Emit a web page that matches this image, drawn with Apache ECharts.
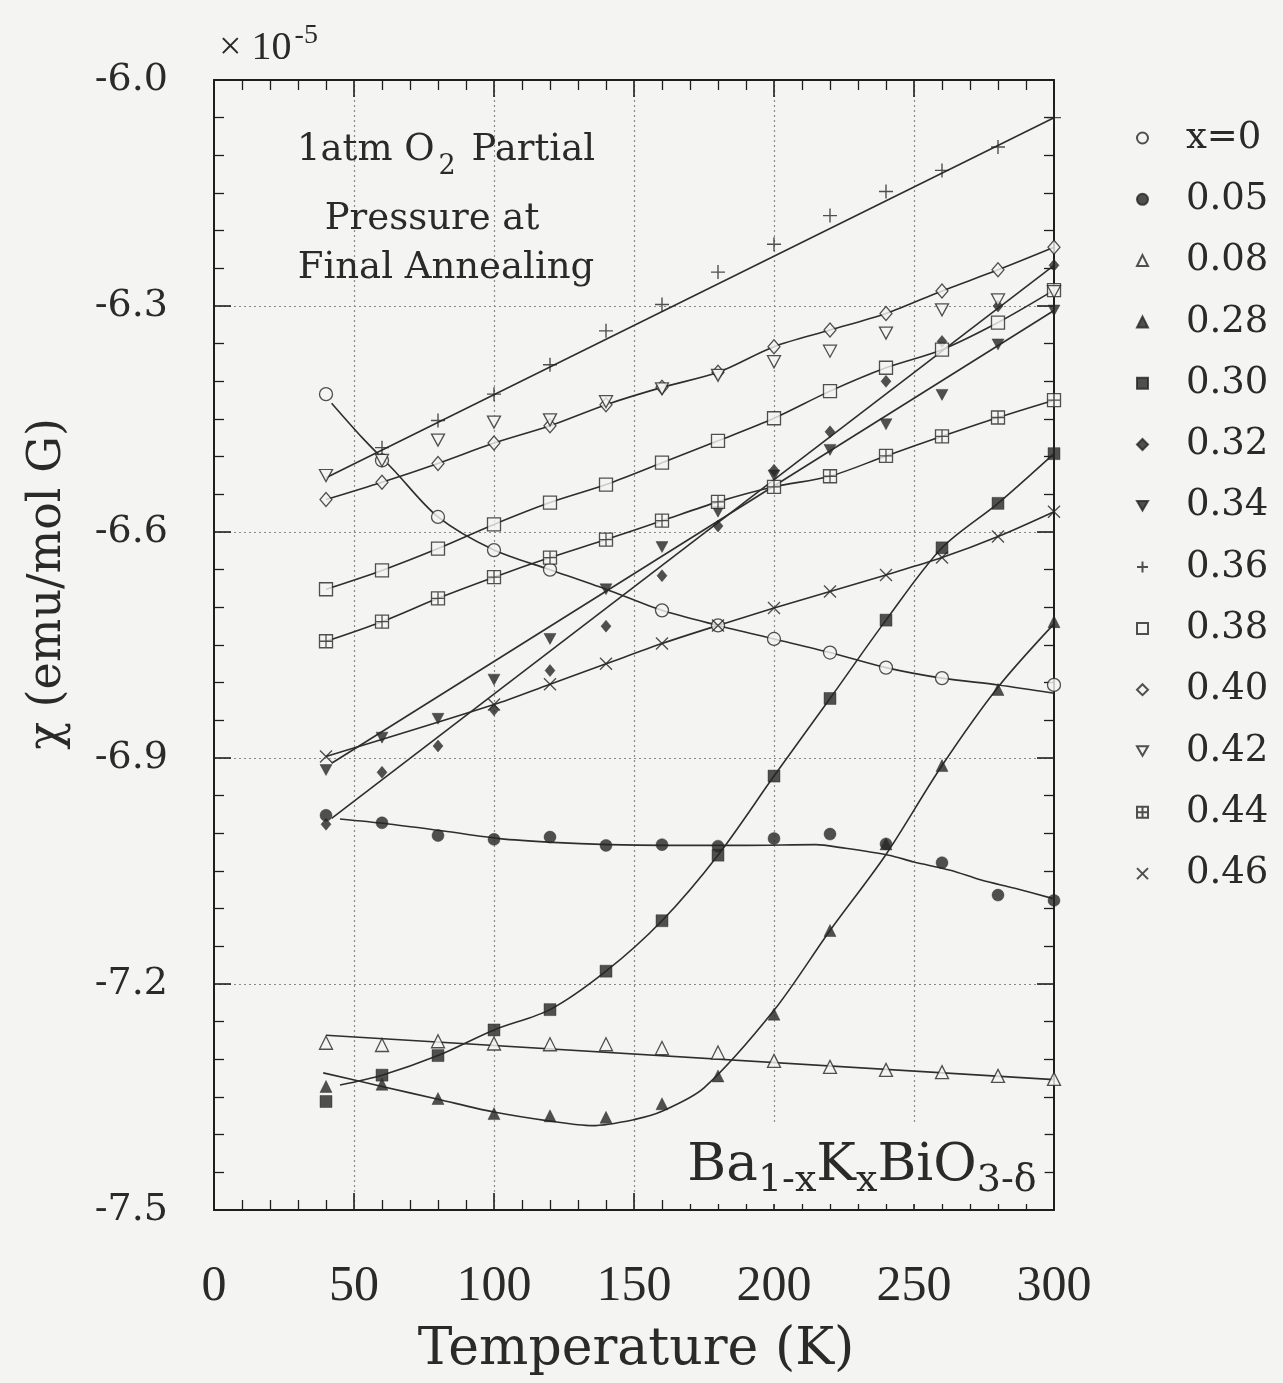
<!DOCTYPE html>
<html>
<head>
<meta charset="utf-8">
<script src="https://cdn.jsdelivr.net/npm/echarts@6/dist/echarts.min.js"></script>
<style>
html,body{margin:0;padding:0;background:#f4f4f2;}
#chart{width:1283px;height:1383px;}
</style>
</head>
<body>
<div id="chart"></div>
<script>
// ---- Data (temperatures in K, chi in 1e-5 emu/mol G) ----
const temps = [40, 60, 80, 100, 120, 140, 160, 180, 200, 220, 240, 260, 280, 300];
const xTicks = [0, 50, 100, 150, 200, 250, 300];
const yTicks = [-7.5, -7.2, -6.9, -6.6, -6.3, -6.0];

const seriesNames = ['x=0', '0.05', '0.08', '0.28', '0.30', '0.32', '0.34', '0.36', '0.38', '0.40', '0.42', '0.44', '0.46'];

const v000 = [-6.417, -6.505, -6.580, -6.624, -6.650, null, -6.704, -6.724, -6.742, -6.760, -6.780, -6.794, null, -6.803];
const v005 = [-6.976, -6.986, -7.003, -7.008, -7.005, -7.016, -7.015, -7.017, -7.007, -7.001, -7.014, -7.039, -7.082, -7.089];
const v008 = [-7.278, -7.281, -7.276, -7.279, -7.280, -7.280, -7.285, -7.291, -7.302, -7.310, -7.314, -7.317, -7.322, -7.326];
const v028 = [-7.336, -7.333, -7.352, -7.372, -7.375, -7.377, -7.359, -7.322, -7.240, -7.129, -7.014, -6.910, -6.809, -6.719];
const v030 = [-7.356, -7.321, -7.295, -7.261, -7.234, -7.183, -7.116, -7.029, -6.924, -6.821, -6.717, -6.621, -6.562, -6.496];
const v032 = [-6.988, -6.919, -6.884, -6.836, -6.784, -6.725, -6.658, -6.592, -6.518, -6.467, -6.400, -6.347, -6.300, -6.246];
const v034 = [-6.916, -6.873, -6.848, -6.796, -6.742, -6.676, -6.620, -6.573, -6.525, -6.491, -6.457, -6.418, -6.351, -6.306];
const v036 = [null, -6.488, -6.452, -6.417, -6.378, -6.333, -6.298, -6.255, -6.218, -6.180, -6.148, -6.120, -6.089, -6.050];
const v038 = [-6.676, -6.651, -6.622, -6.590, -6.561, -6.537, -6.508, -6.479, -6.449, -6.413, -6.382, -6.358, -6.322, -6.279];
const v040 = [-6.557, -6.534, -6.509, -6.482, -6.459, -6.431, -6.408, -6.388, -6.354, -6.332, -6.310, -6.280, -6.252, -6.222];
const v042 = [-6.525, -6.505, -6.478, -6.454, -6.451, -6.427, -6.410, -6.392, -6.374, -6.360, -6.336, -6.305, -6.292, -6.281];
const v044 = [-6.745, -6.719, -6.688, -6.660, -6.634, -6.610, -6.585, -6.560, -6.540, -6.526, -6.499, -6.473, -6.448, -6.425];
const v046 = [-6.898, null, null, -6.829, -6.802, -6.775, -6.748, -6.724, -6.701, -6.679, -6.657, -6.634, -6.606, -6.573];

// fitted curves as drawn in the figure: [T, chi]
const fit000 = [[42, -6.429], [53, -6.475], [64, -6.517], [80, -6.580], [100, -6.624], [120, -6.650], [140, -6.676], [160, -6.704], [180, -6.724], [200, -6.742], [220, -6.760], [240, -6.780], [260, -6.794], [280, -6.803], [300, -6.814]];
const fit005 = [[45, -6.981], [61, -6.987], [82, -6.997], [102, -7.007], [121, -7.012], [141, -7.015], [161, -7.016], [190, -7.016], [215, -7.015], [224, -7.019], [241, -7.029], [250, -7.038], [263, -7.049], [274, -7.062], [286, -7.073], [300, -7.087]];
const fit008 = [[40, -7.268], [300, -7.327]];
const fit028 = [[39, -7.318], [60, -7.336], [80, -7.353], [100, -7.370], [120, -7.382], [135, -7.388], [150, -7.380], [160, -7.369], [175, -7.338], [200, -7.235], [220, -7.129], [240, -7.028], [260, -6.910], [280, -6.806], [300, -6.722]];
const fit030Start = [45, -7.334];
const fit032 = [[42, -6.980], [300, -6.246]];
const fit034 = [[42, -6.907], [300, -6.306]];
const fit036 = [[40, -6.528], [300, -6.050]];

// ---- helpers ----
const BG = '#f4f4f2';
const INK = '#262626';
function pts(vals) { return temps.map((t, i) => [t, vals[i]]).filter(p => p[1] !== null); }

const SYM = {
  downTri: 'path://M0,0L12,0L6,10.4Z',
  plus: 'path://M6,0L6,12M0,6L12,6',
  cross: 'path://M0,0L12,12M12,0L0,12',
  boxPlus: 'path://M0,0L12,0L12,12L0,12ZM6,0L6,12M0,6L12,6'
};
const openStyle = { color: BG, borderColor: INK, borderWidth: 1.3 };
const fillStyle = { color: INK, borderColor: INK, borderWidth: 0.5 };
const strokeStyle = { color: INK, borderColor: INK, borderWidth: 1.4 };

const markerDefs = [
  { name: 'x=0', vals: v000, symbol: 'circle', size: 13, style: openStyle },
  { name: '0.05', vals: v005, symbol: 'circle', size: 12, style: fillStyle },
  { name: '0.08', vals: v008, symbol: 'triangle', size: 13, style: openStyle },
  { name: '0.28', vals: v028, symbol: 'triangle', size: 12, style: fillStyle },
  { name: '0.30', vals: v030, symbol: 'rect', size: 12, style: fillStyle },
  { name: '0.32', vals: v032, symbol: 'diamond', size: [10, 12], style: fillStyle },
  { name: '0.34', vals: v034, symbol: SYM.downTri, size: [12, 11], style: fillStyle },
  { name: '0.36', vals: v036, symbol: SYM.plus, size: 14, style: strokeStyle },
  { name: '0.38', vals: v038, symbol: 'rect', size: 13, style: openStyle },
  { name: '0.40', vals: v040, symbol: 'diamond', size: [12, 14], style: openStyle },
  { name: '0.42', vals: v042, symbol: SYM.downTri, size: [13, 12], style: openStyle },
  { name: '0.44', vals: v044, symbol: SYM.boxPlus, size: 13, style: openStyle },
  { name: '0.46', vals: v046, symbol: SYM.cross, size: 12, style: strokeStyle }
];

const fitLines = [
  fit000, fit005, fit008, fit028,
  [fit030Start].concat(pts(v030).slice(1)),
  fit032, fit034, fit036,
  pts(v038), pts(v040), pts(v044), pts(v046)
];

const series = [];
fitLines.forEach((d, i) => {
  series.push({
    type: 'line', name: 'fit' + i, data: d, showSymbol: false, symbol: 'none',
    smooth: 0.3, silent: true, z: 2,
    lineStyle: { color: '#2e2e2e', width: 1.6 }
  });
});
markerDefs.forEach(m => {
  series.push({
    type: 'scatter', name: m.name, data: pts(m.vals), symbol: m.symbol,
    symbolSize: m.size, itemStyle: m.style, z: 3, silent: true
  });
});

const SERIF = '"DejaVu Serif", serif';
const TIMES = '"Liberation Serif", serif';

function axisBits(split) {
  return {
    axisLine: { show: true, onZero: false, lineStyle: { color: '#1e1e1e', width: 2 } },
    axisTick: { show: true, inside: true, length: 17, lineStyle: { color: '#1e1e1e', width: 1.6 } },
    minorTick: { show: true, splitNumber: split, length: 10, lineStyle: { color: '#1e1e1e', width: 1.3 } }
  };
}
const gridLine = { show: true, showMinLine: false, showMaxLine: false, lineStyle: { color: '#8a8a8a', type: [2, 3], width: 1.2 } };

const option = {
  backgroundColor: BG,
  animation: false,
  grid: { left: 214, right: 229, top: 80, bottom: 173, containLabel: false },
  xAxis: [
    Object.assign({
      type: 'value', min: xTicks[0], max: xTicks[xTicks.length - 1], interval: 50, position: 'bottom',
      axisLabel: { show: true, margin: 52, color: '#2a2a2a', fontFamily: TIMES, fontSize: 50 },
      splitLine: gridLine
    }, axisBits(5)),
    Object.assign({
      type: 'value', min: xTicks[0], max: xTicks[xTicks.length - 1], interval: 50, position: 'top',
      axisLabel: { show: false }, splitLine: { show: false }
    }, axisBits(5))
  ],
  yAxis: [
    Object.assign({
      type: 'value', min: yTicks[0], max: yTicks[yTicks.length - 1], interval: 0.3, position: 'left',
      axisLabel: { show: true, margin: 46, color: '#2a2a2a', fontFamily: SERIF, fontSize: 38,
        formatter: v => v.toFixed(1) },
      splitLine: gridLine
    }, axisBits(6)),
    Object.assign({
      type: 'value', min: yTicks[0], max: yTicks[yTicks.length - 1], interval: 0.3, position: 'right',
      axisLabel: { show: false }, splitLine: { show: false }
    }, axisBits(6))
  ],
  legend: {
    data: seriesNames,
    orient: 'vertical',
    left: 1131, top: 113,
    itemWidth: 11, itemHeight: 11,
    itemGap: 21.3,
    selectedMode: false,
    textStyle: { fontFamily: SERIF, fontSize: 37, color: '#2a2a2a', lineHeight: 40, padding: [0, 0, 0, 33] }
  },
  series: series,
  graphic: [
    { type: 'text', left: 219, top: 22, z: 10,
      style: { text: '× 10{s|-5}', font: '40px ' + TIMES, fill: '#2a2a2a',
        rich: { s: { fontSize: 28, fontFamily: TIMES, verticalAlign: 'top', padding: [0, 0, 24, 3], fill: '#2a2a2a' } } } },
    { type: 'text', x: 446, y: 150, z: 10,
      style: { text: '1atm O{sub|2} Partial', font: '37px ' + SERIF, fill: '#2a2a2a', align: 'center', verticalAlign: 'middle',
        rich: { sub: { fontSize: 27, fontFamily: SERIF, padding: [34, 4, 0, 4], fill: '#2a2a2a' } } } },
    { type: 'text', x: 432, y: 219, z: 10,
      style: { text: 'Pressure at', font: '37px ' + SERIF, fill: '#2a2a2a', align: 'center', verticalAlign: 'middle' } },
    { type: 'text', x: 446, y: 268, z: 10,
      style: { text: 'Final Annealing', font: '37px ' + SERIF, fill: '#2a2a2a', align: 'center', verticalAlign: 'middle' } },
    { type: 'text', x: 862, y: 1164, z: 10,
      style: { text: 'Ba{s|1-x}K{s|x}BiO{s|3-δ}', font: '53px ' + SERIF, fill: '#2a2a2a', align: 'center', verticalAlign: 'middle',
        backgroundColor: BG, padding: [8, 8, 4, 8],
        rich: { s: { fontSize: 38, fontFamily: SERIF, padding: [30, 0, 0, 0], fill: '#2a2a2a' } } } },
    { type: 'text', x: 48, y: 584, rotation: Math.PI / 2, z: 10,
      style: { text: 'χ (emu/mol G)', font: '46px ' + SERIF, fill: '#2a2a2a', align: 'center', verticalAlign: 'middle' } },
    { type: 'text', x: 636, y: 1350, z: 10,
      style: { text: 'Temperature (K)', font: '52px ' + SERIF, fill: '#2a2a2a', align: 'center', verticalAlign: 'middle' } }
  ]
};

const chart = echarts.init(document.getElementById('chart'), null, { renderer: 'canvas' });
chart.setOption(option);
</script>
</body>
</html>
